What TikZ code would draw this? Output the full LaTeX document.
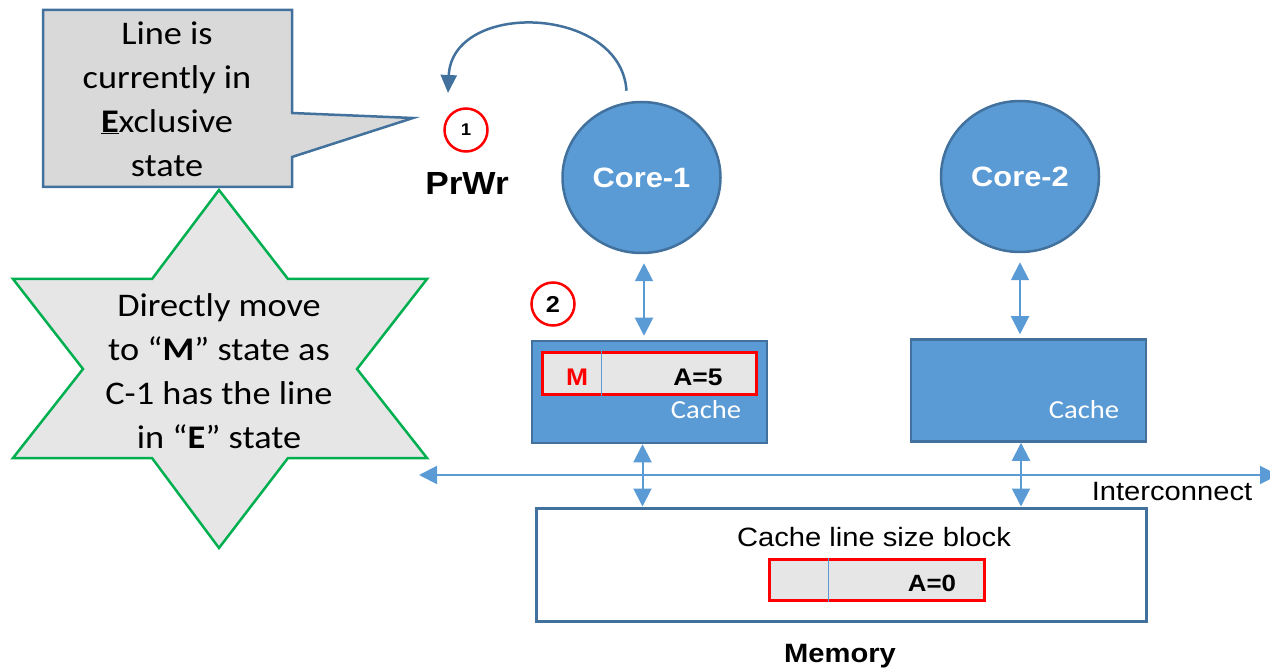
\documentclass[tikz,border=0pt]{standalone}
\usepackage{fontspec}
\usetikzlibrary{arrows.meta,shapes.geometric}
\newfontfamily\calfont{Carlito}[FakeStretch=1.1]
\newfontfamily\arifont{Liberation Sans}[FakeStretch=1.1]
\definecolor{cellblue}{HTML}{5B9BD5}
\definecolor{edgeblue}{HTML}{41719C}
\definecolor{notegray}{HTML}{D9D9D9}
\definecolor{stargray}{HTML}{E6E6E6}
\definecolor{slotgray}{HTML}{E6E6E6}
\definecolor{stargreen}{HTML}{00B050}
\begin{document}
\begin{tikzpicture}[x=1pt,y=-1pt,
  link/.style={draw=cellblue, line width=2pt, {Triangle[width=18pt,length=18pt]}-{Triangle[width=18pt,length=18pt]}},
  corenode/.style={ellipse, minimum width=158pt, minimum height=151pt, inner sep=0pt,
    fill=cellblue, draw=edgeblue, line width=2.5pt, text=white,
    font=\arifont\bfseries\fontsize{28}{32}\selectfont},
  cachebox/.style={rectangle, minimum width=235pt, minimum height=102pt, inner sep=0pt,
    fill=cellblue, draw=edgeblue, line width=2.5pt},
  slot/.style={rectangle, minimum height=42pt, inner sep=0pt, fill=slotgray, draw=red, line width=3pt},
  divider/.style={draw=cellblue, line width=1pt},
  stepmark/.style={circle, minimum size=43pt, inner sep=0pt, draw=red, line width=2.5pt,
    font=\arifont\bfseries},
  cachelabel/.style={anchor=base, text=white, font=\calfont\fontsize{26}{30}\selectfont},
  bigtext/.style={align=center, font=\calfont\fontsize{33}{44}\selectfont},
]
\useasboundingbox (0,0) rectangle (1270,668);

% callout with pointer
\draw[fill=notegray, draw=edgeblue, line width=2.5pt]
  (43,10) -- (292,10) -- (292,113) -- (413,118) -- (292,157) -- (292,187) -- (43,187) -- cycle;
\node[bigtext] (note) at (167,99) {Line is\\currently in\\\underline{\textbf{E}}xclusive\\state};

% six-pointed star
\draw[fill=stargray, draw=stargreen, line width=2.5pt]
  (219,190) -- (288,279) -- (427,279) -- (357,369) -- (427,458) -- (288,458) --
  (219,548) -- (152,458) -- (13,458) -- (83,369) -- (13,279) -- (152,279) -- cycle;
\node[bigtext] (starnote) at (219,371) {Directly move\\to “\textbf{M}” state as\\C-1 has the line\\in “\textbf{E}” state};

% cores
\node[corenode] (core1) at (641.5,177.5) {Core-1};
\node[corenode] (core2) at (1020,176.5) {Core-2};

% caches
\node[cachebox] (cache1) at (649.5,392) {};
\node[cachebox] (cache2) at (1028.5,390.5) {};
\node[slot, minimum width=214pt] (slot1) at (649,374) {};
\draw[divider] (slot1.north -| 601,0) -- (slot1.south -| 601,0);
\node[anchor=base, text=red, font=\arifont\bfseries\fontsize{24}{28}\selectfont] (mstate) at (577,386) {M};
\node[anchor=base, font=\arifont\bfseries\fontsize{24}{28}\selectfont] (aval1) at (698,386) {A=5};
\node[cachelabel] (clab1) at (706,418) {Cache};
\node[cachelabel] (clab2) at (1084,418) {Cache};

% memory
\node[rectangle, minimum width=610pt, minimum height=113pt, inner sep=0pt, fill=white,
  draw=edgeblue, line width=3pt] (mem) at (841,564.5) {};
\node[anchor=base, font=\arifont\fontsize{26.5}{30}\selectfont] (blk) at (874,546) {Cache line size block};
\node[slot, minimum width=215pt, minimum height=41pt] (slot0) at (876.5,579.5) {};
\draw[divider] (slot0.north -| 828,0) -- (slot0.south -| 828,0);
\node[anchor=base, font=\arifont\bfseries\fontsize{23.5}{27}\selectfont] (aval0) at (932,591) {A=0};
\node[anchor=base, font=\arifont\bfseries\fontsize{26.5}{30}\selectfont] (memlab) at (840,662) {Memory};

% interconnect
\coordinate (busL) at (419,475);
\coordinate (busR) at (1278,475);
\draw[link] (busL) -- (busR);
\node[anchor=base, font=\arifont\fontsize{26.5}{30}\selectfont] (buslab) at (1172,500) {Interconnect};

% core <-> cache and cache <-> memory links
\draw[link, shorten <=9pt, shorten >=4pt] ([xshift=2.5pt]core1.south) -- ([xshift=2.5pt]core1.south |- cache1.north);
\draw[link, shorten <=9pt, shorten >=4pt] (core2.south) -- (core2.south |- cache2.north);
\draw[link] ([xshift=-7pt]cache1.south) -- ([xshift=-7pt]cache1.south |- mem.north);
\draw[link] ([xshift=-7.5pt]cache2.south) -- ([xshift=-7.5pt]cache2.south |- mem.north);

% step markers
\node[stepmark, font=\arifont\bfseries\fontsize{17}{20}\selectfont] (s1) at (466,130) {1};
\node[anchor=base, font=\arifont\bfseries\fontsize{32}{36}\selectfont] (prwr) at (467,195) {PrWr};
\node[stepmark, font=\arifont\bfseries\fontsize{23}{26}\selectfont] (s2) at (553,304) {2};

% processor write loop
\coordinate (wrtip) at (448,93);
\draw[edgeblue, line width=2.5pt, -{Triangle[width=16pt,length=18pt]}]
  ([xshift=-15pt,yshift=10pt]core1.north) .. controls (621,5) and (452,0) .. (wrtip);
\end{tikzpicture}
\end{document}
